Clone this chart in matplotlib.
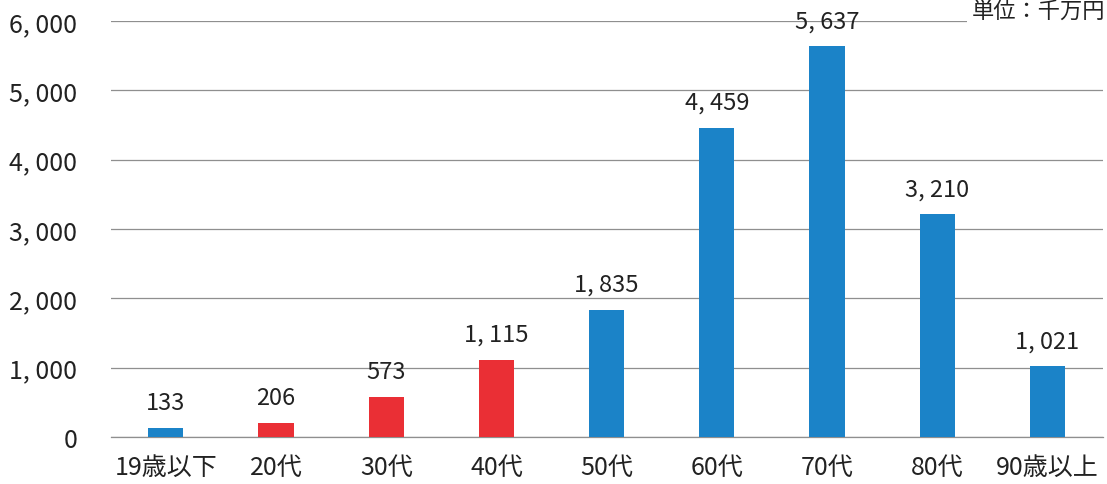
import matplotlib
matplotlib.use("Agg")
import matplotlib.pyplot as plt
from matplotlib.ticker import FuncFormatter

plt.rcParams['font.family'] = ['Noto Sans CJK JP', 'DejaVu Sans']

categories = ["19歳以下", "20代", "30代", "40代", "50代", "60代", "70代", "80代", "90歳以上"]
values = [133, 206, 573, 1115, 1835, 4459, 5637, 3210, 1021]
highlight = [False, True, True, True, False, False, False, False, False]
yticks = [0, 1000, 2000, 3000, 4000, 5000, 6000]
unit_label = "単位：千万円"

BLUE = "#1b83c8"
RED = "#ea2f35"

def fmt(v):
    return f"{int(v):,}".replace(",", ", ")

fig = plt.figure(figsize=(11.07, 4.85), dpi=100)
ax = fig.add_axes([0.100, 0.097, 0.896, 0.858])

colors = [RED if h else BLUE for h in highlight]
x = range(len(categories))
ax.bar(x, values, width=0.32, color=colors, zorder=3)

ax.set_xlim(-0.5, len(categories) - 0.5)
ax.set_ylim(0, 6000)
ax.set_yticks(yticks)
ax.yaxis.set_major_formatter(FuncFormatter(lambda v, p: fmt(v)))
ax.grid(axis='y', color='#8f8f8f', linewidth=0.9, zorder=0)
ax.axhline(0, color='#8f8f8f', linewidth=0.9, zorder=2, clip_on=False)
for s in ax.spines.values():
    s.set_visible(False)
ax.tick_params(axis='both', length=0, labelsize=18, colors='#222222')
ax.tick_params(axis='y', pad=24)
ax.tick_params(axis='x', pad=12)
ax.set_xticks(list(x))
ax.set_xticklabels(categories)

for xi, v in zip(x, values):
    ax.annotate(fmt(v), (xi, v), xytext=(0, 10), textcoords='offset points',
                ha='center', va='bottom', fontsize=17, color='#222222', clip_on=False)

fig.text(0.998, 0.998, unit_label, ha='right', va='top', fontsize=16, color='#222222',
         bbox=dict(facecolor='white', edgecolor='none', pad=3), zorder=10)

fig.savefig("out.png", dpi=100, facecolor='white')
